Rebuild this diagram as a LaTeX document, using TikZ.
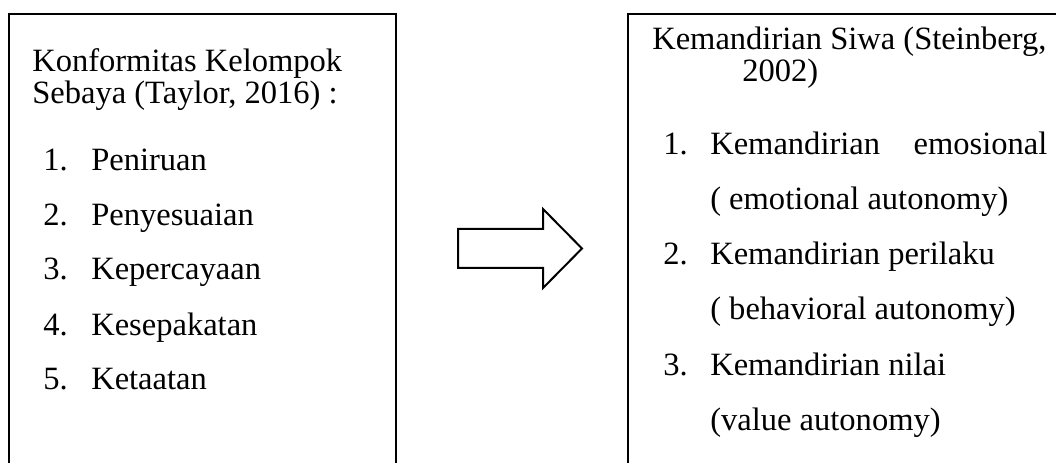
\documentclass[tikz,border=0pt]{standalone}
\usepackage{fontspec}
\setmainfont{Liberation Serif}
\usepackage{tikz}

\tikzset{
  frame/.style={draw=black,line width=1.5pt},
  txt/.style={anchor=base west,inner sep=0pt,font=\fontsize{24.4}{28}\selectfont},
  blockarrow/.style={draw=black,line width=1.5pt,line join=miter}
}

\begin{document}
\begin{tikzpicture}[x=0.75pt,y=-0.75pt]
      \useasboundingbox (0,0) rectangle (1056,463);
      \clip (0,0) rectangle (1056,463);

      % left box
      \draw[frame] (9,14) rectangle (396,490);
      \node[txt] (konf) at (32,72) {Konformitas Kelompok};
      \node[txt] (sebaya) at (32,104) {Sebaya (Taylor, 2016) :};
      \node[txt] (n1) at (43,171) {1.};
      \node[txt] (peniruan) at (91,171) {Peniruan};
      \node[txt] (n2) at (43,226) {2.};
      \node[txt] (penyesuaian) at (91,226) {Penyesuaian};
      \node[txt] (n3) at (43,280) {3.};
      \node[txt] (kepercayaan) at (91,280) {Kepercayaan};
      \node[txt] (n4) at (43,335) {4.};
      \node[txt] (kesepakatan) at (91,335) {Kesepakatan};
      \node[txt] (n5) at (43,389) {5.};
      \node[txt] (ketaatan) at (91,389) {Ketaatan};

      % block arrow
      \draw[blockarrow] (458,229) -- (543,229) -- (543,209) -- (582,248.5)
        -- (543,288) -- (543,268) -- (458,268) -- cycle;

      % right box
      \draw[frame] (628,14) rectangle (1080,490);
      \node[txt] (kemandirian) at (652,50) {Kemandirian Siwa (Steinberg,};
      \node[txt] (tahun) at (742,82) {2002)};
      \node[txt] (m1) at (663,155) {1.};
      \node[txt] (emosional) at (710,155) {\makebox[252.75pt][s]{Kemandirian emosional}};
      \node[txt] (emotional) at (710,210) {( emotional autonomy)};
      \node[txt] (m2) at (663,265) {2.};
      \node[txt] (perilaku) at (710,265) {Kemandirian perilaku};
      \node[txt] (behavioral) at (710,320) {( behavioral autonomy)};
      \node[txt] (m3) at (663,375) {3.};
      \node[txt] (nilai) at (710,375) {Kemandirian nilai};
      \node[txt] (value) at (710,430) {(value autonomy)};
\end{tikzpicture}
\end{document}
